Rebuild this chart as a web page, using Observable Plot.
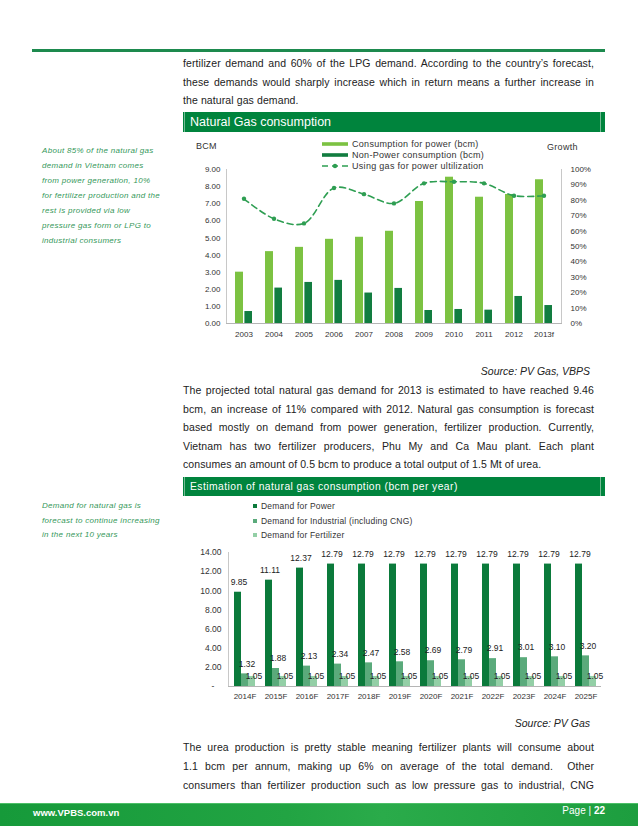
<!DOCTYPE html>
<html><head><meta charset="utf-8">
<script src="https://cdn.jsdelivr.net/npm/d3@7"></script>
<script src="https://cdn.jsdelivr.net/npm/@observablehq/plot@0.6"></script>
<style>
html,body{margin:0;padding:0;background:#fff;}
body{width:638px;height:826px;position:relative;overflow:hidden;font-family:"Liberation Sans",Arial,sans-serif;color:#222;}
.abs{position:absolute;}
.rule{left:32px;top:49px;width:573px;height:3px;background:#1d8a4e;}
.ln{position:absolute;left:183px;width:411px;font-size:10.5px;line-height:14px;height:14px;text-align:justify;text-align-last:justify;letter-spacing:0.1px;}
.ln.last{text-align-last:left;}
.side{position:absolute;left:42px;font-size:8px;line-height:12px;font-style:italic;color:#35985a;letter-spacing:0.3px;white-space:nowrap;}
.hdr{position:absolute;left:183px;width:422px;background:#00843d;color:#fff;white-space:nowrap;}
.hdr:before{content:"";position:absolute;left:1px;top:0;bottom:0;width:1px;background:rgba(255,255,255,0.45);}
.hdr:after{content:"";position:absolute;right:4px;top:0;bottom:0;width:1px;background:rgba(255,255,255,0.45);}
.src{position:absolute;right:48px;font-size:10.5px;font-style:italic;line-height:14px;color:#222;}
.lg{position:absolute;font-size:9px;line-height:10px;color:#333;white-space:nowrap;letter-spacing:0.3px;}
.lg2{position:absolute;font-size:8.5px;line-height:10px;color:#333;white-space:nowrap;letter-spacing:0.2px;}
.footer{left:0;top:803px;width:638px;height:23px;background:linear-gradient(90deg,#169a3a 0%,#22a443 45%,#2aab4a 60%,#1d9e3f 100%);border-top:1px solid #4cbf67;box-sizing:border-box;}
</style></head>
<body>
<div class="abs rule"></div>
<div class="ln" style="top:56px">fertilizer demand and 60% of the LPG demand. According to the country’s forecast,</div>
<div class="ln" style="top:74.5px">these demands would sharply increase which in return means a further increase in</div>
<div class="ln last" style="top:93px">the natural gas demand.</div>

<div class="hdr" style="top:112px;height:20px;line-height:20px;font-size:12.5px;"><span style="padding-left:7px">Natural Gas consumption</span></div>

<div class="side" style="top:145px">About 85% of the natural gas</div>
<div class="side" style="top:160px">demand in Vietnam comes</div>
<div class="side" style="top:175px">from power generation, 10%</div>
<div class="side" style="top:190px">for fertilizer production and the</div>
<div class="side" style="top:205px">rest is provided via low</div>
<div class="side" style="top:220px">pressure gas form or LPG to</div>
<div class="side" style="top:235px">industrial consumers</div>

<div id="chart1" class="abs" style="left:183px;top:138px;"></div>
<div class="lg" style="left:196px;top:141px;">BCM</div>
<div class="lg" style="left:547px;top:142px;">Growth</div>
<div id="legend1"></div>

<div class="src" style="top:364px">Source: PV Gas, VBPS</div>
<div class="ln" style="top:383px">The projected total natural gas demand for 2013 is estimated to have reached 9.46</div>
<div class="ln" style="top:401.5px">bcm, an increase of 11% compared with 2012. Natural gas consumption is forecast</div>
<div class="ln" style="top:420px">based mostly on demand from power generation, fertilizer production. Currently,</div>
<div class="ln" style="top:438.5px">Vietnam has two fertilizer producers, Phu My and Ca Mau plant. Each plant</div>
<div class="ln last" style="top:457px">consumes an amount of 0.5 bcm to produce a total output of 1.5 Mt of urea.</div>

<div class="hdr" style="top:477px;height:19px;line-height:19px;font-size:10.3px;letter-spacing:0.45px;"><span style="padding-left:7px">Estimation of natural gas consumption (bcm per year)</span></div>

<div class="side" style="top:500px">Demand for natural gas is</div>
<div class="side" style="top:514.5px">forecast to continue increasing</div>
<div class="side" style="top:529px">in the next 10 years</div>
<div id="legend2"></div>

<div id="chart2" class="abs" style="left:183px;top:540px;"></div>

<div class="src" style="top:716px">Source: PV Gas</div>
<div class="ln" style="top:740px">The urea production is pretty stable meaning fertilizer plants will consume about</div>
<div class="ln" style="top:759px">1.1 bcm per annum, making up 6% on average of the total demand.&nbsp; Other</div>
<div class="ln" style="top:778px">consumers than fertilizer production such as low pressure gas to industrial, CNG</div>

<div class="abs footer"></div>
<div class="abs" style="left:33px;top:807px;font-size:9.5px;font-weight:bold;color:#fff;line-height:12px;">www.VPBS.com.vn</div>
<div class="abs" style="right:33px;top:805px;font-size:10px;color:#fff;line-height:12px;">Page | <b>22</b></div>

<script>
// ---------- Chart 1 data: Natural Gas consumption ----------
const years1 = ["2003","2004","2005","2006","2007","2008","2009","2010","2011","2012","2013f"];
const powerBcm = [3.00, 4.20, 4.45, 4.92, 5.04, 5.39, 7.13, 8.55, 7.38, 7.54, 8.40];
const nonPowerBcm = [0.70, 2.07, 2.40, 2.52, 1.78, 2.05, 0.76, 0.82, 0.78, 1.58, 1.05];
const gasForPowerPct = [81, 68, 65, 88, 84, 78, 91, 92, 91, 83, 83];
const bcmTicks = [0, 1, 2, 3, 4, 5, 6, 7, 8, 9];
const pctTicks = [0, 10, 20, 30, 40, 50, 60, 70, 80, 90, 100];
const legend1Labels = ["Consumption for power (bcm)", "Non-Power consumption (bcm)", "Using gas for power ultilization"];

// ---------- Chart 2 data: Estimation of natural gas consumption ----------
const years2 = ["2014F","2015F","2016F","2017F","2018F","2019F","2020F","2021F","2022F","2023F","2024F","2025F"];
const demandPower = [9.85, 11.11, 12.37, 12.79, 12.79, 12.79, 12.79, 12.79, 12.79, 12.79, 12.79, 12.79];
const demandIndustrial = [1.32, 1.88, 2.13, 2.34, 2.47, 2.58, 2.69, 2.79, 2.91, 3.01, 3.10, 3.20];
const demandFertilizer = [1.05, 1.05, 1.05, 1.05, 1.05, 1.05, 1.05, 1.05, 1.05, 1.05, 1.05, 1.05];
const estTicks = [0, 2, 4, 6, 8, 10, 12, 14];
const legend2Labels = ["Demand for Power", "Demand for Industrial (including CNG)", "Demand for Fertilizer"];

const C_LIGHT = "#7cc242", C_DARK = "#127d40", C_LINE = "#2e9e52";
const C2_POWER = "#0b7a3b", C2_IND = "#5aaa7b", C2_FERT = "#93cfa6";
const FONT = "Liberation Sans, Arial, sans-serif";

const BCM_MAX = bcmTicks[bcmTicks.length - 1], PCT_MAX = pctTicks[pctTicks.length - 1];
const toBcm = p => p / PCT_MAX * BCM_MAX;
const rows1 = years1.map((year, i) => ({year, power: powerBcm[i], nonPower: nonPowerBcm[i], share: toBcm(gasForPowerPct[i])}));

function sideLines(ymax, color) {
  return (index, {y}, channels, {width, marginLeft, marginRight}) => {
    const g = d3.create("svg:g").attr("stroke", color).attr("stroke-width", 1);
    for (const xx of [marginLeft + 0.5, width - marginRight - 0.5]) {
      g.append("line").attr("x1", xx).attr("x2", xx).attr("y1", y(0)).attr("y2", y(ymax));
    }
    return g.node();
  };
}
function leftLine(ymax, color) {
  return (index, {y}, channels, {marginLeft}) => {
    const g = d3.create("svg:g").attr("stroke", color);
    g.append("line").attr("x1", marginLeft + 0.5).attr("x2", marginLeft + 0.5).attr("y1", y(0)).attr("y2", y(ymax));
    return g.node();
  };
}

const chart1 = Plot.plot({
  width: 422, height: 210,
  marginLeft: 43, marginRight: 43, marginTop: 31, marginBottom: 25,
  style: {fontFamily: FONT, fontSize: "8px", color: "#333", background: "transparent", overflow: "visible"},
  x: {domain: years1, paddingInner: 0.43, paddingOuter: 0.215, axis: null},
  y: {domain: [0, BCM_MAX], axis: null},
  marks: [
    Plot.barY(rows1, {x: "year", y: "power", fill: C_LIGHT, insetRight: 9}),
    Plot.barY(rows1, {x: "year", y: "nonPower", fill: C_DARK, insetLeft: 9.4}),
    Plot.ruleY([0], {stroke: "#b5b5b5"}),
    sideLines(BCM_MAX, "#c8c8c8"),
    Plot.line(rows1, {x: "year", y: "share", stroke: C_LINE, strokeWidth: 1.6, strokeDasharray: "6,4", curve: "catmull-rom"}),
    Plot.dot(rows1, {x: "year", y: "share", fill: C_LINE, r: 2.2}),
    Plot.axisX({tickSize: 0, tickPadding: 8, label: null}),
    Plot.axisY(bcmTicks, {anchor: "left", tickSize: 0, tickPadding: 6, tickFormat: d => d.toFixed(2), label: null}),
    Plot.axisY(pctTicks.map(toBcm), {anchor: "right", tickSize: 0, tickPadding: 8, tickFormat: d => Math.round(d / BCM_MAX * PCT_MAX) + "%", label: null})
  ]
});
document.getElementById("chart1").append(chart1);

// legend 1
(function() {
  const host = document.getElementById("legend1");
  const rowsY = [138.5, 149.5, 160.5];
  legend1Labels.forEach((lab, i) => {
    const d = document.createElement("div");
    d.className = "lg";
    d.style.left = "322px"; d.style.top = rowsY[i] + "px";
    let sw;
    if (i < 2) sw = `<svg width="27" height="10" style="vertical-align:top"><rect x="0" y="3.2" width="26" height="3.6" fill="${i === 0 ? C_LIGHT : C_DARK}"/></svg>`;
    else sw = `<svg width="27" height="10" style="vertical-align:top"><line x1="0" x2="26" y1="5" y2="5" stroke="${C_LINE}" stroke-width="1.4" stroke-dasharray="6,4"/><circle cx="13" cy="5" r="2.2" fill="${C_LINE}"/></svg>`;
    d.innerHTML = sw + `<span style="margin-left:3px">${lab}</span>`;
    host.append(d);
  });
})();

// ---------- Chart 2 ----------
const rows2 = years2.map((year, i) => ({year, power: demandPower[i], industrial: demandIndustrial[i], fertilizer: demandFertilizer[i]}));
const chart2 = Plot.plot({
  width: 422, height: 165,
  marginLeft: 45, marginRight: 4, marginTop: 12, marginBottom: 19,
  style: {fontFamily: FONT, fontSize: "8px", color: "#333", background: "transparent", overflow: "visible"},
  x: {domain: years2, paddingInner: 0.324, paddingOuter: 0.162, axis: null},
  y: {domain: [0, estTicks[estTicks.length - 1]], axis: null},
  marks: [
    Plot.barY(rows2, {x: "year", y: "power", fill: C2_POWER, insetRight: 14}),
    Plot.barY(rows2, {x: "year", y: "industrial", fill: C2_IND, insetLeft: 7, insetRight: 7}),
    Plot.barY(rows2, {x: "year", y: "fertilizer", fill: C2_FERT, insetLeft: 14}),
    Plot.ruleY([0], {stroke: "#b5b5b5"}),
    leftLine(estTicks[estTicks.length - 1], "#c8c8c8"),
    Plot.text(rows2, {x: "year", y: "power", text: d => d.power.toFixed(2), dx: -6, dy: -10, fontSize: 8.5, fill: "#222"}),
    Plot.text(rows2, {x: "year", y: "industrial", text: d => d.industrial.toFixed(2), dx: 2, dy: -10, fontSize: 8.5, fill: "#222"}),
    Plot.text(rows2, {x: "year", y: "fertilizer", text: d => d.fertilizer.toFixed(2), dx: 9, dy: 0, fontSize: 8.5, fill: "#222"}),
    Plot.axisX({tickSize: 0, tickPadding: 7, label: null}),
    Plot.axisY(estTicks, {anchor: "left", tickSize: 0, tickPadding: 7, fontSize: 8.5, tickFormat: d => d === 0 ? "-\u00a0\u00a0\u00a0" : d.toFixed(2), label: null})
  ]
});
document.getElementById("chart2").append(chart2);

// legend 2
(function() {
  const host = document.getElementById("legend2");
  const cols = [C2_POWER, C2_IND, C2_FERT];
  const rowsY = [501, 515.5, 530];
  legend2Labels.forEach((lab, i) => {
    const d = document.createElement("div");
    d.className = "lg2";
    d.style.left = "253px"; d.style.top = rowsY[i] + "px";
    d.innerHTML = `<svg width="5" height="10" style="vertical-align:top"><rect x="0" y="3" width="4" height="4" fill="${cols[i]}"/></svg><span style="margin-left:3px">${lab}</span>`;
    host.append(d);
  });
})();
</script>
</body></html>
